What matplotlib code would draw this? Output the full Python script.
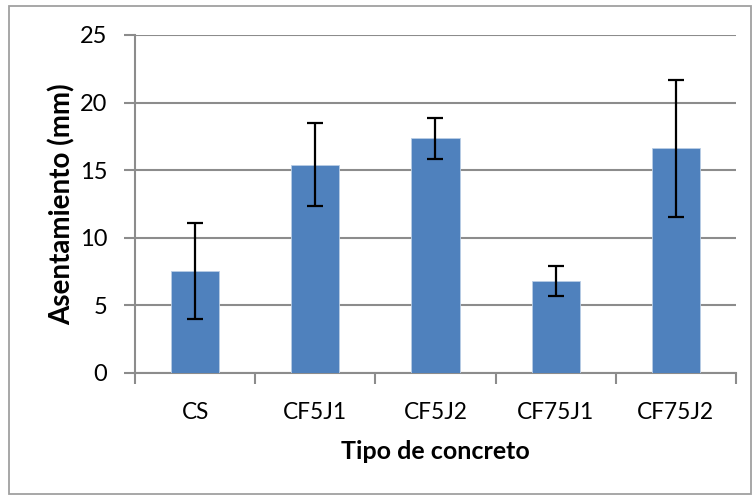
import matplotlib
matplotlib.use("Agg")
import matplotlib.pyplot as plt
from matplotlib.patches import Rectangle
import numpy as np

plt.rcParams['font.family'] = ['Lato', 'DejaVu Sans']

categories = ["CS", "CF5J1", "CF5J2", "CF75J1", "CF75J2"]
asentamiento = [7.5, 15.4, 17.35, 6.8, 16.6]
desviacion = [3.55, 3.05, 1.52, 1.1, 5.05]
y_ticks = [0, 5, 10, 15, 20, 25]

bar_color = "#4F81BD"
grid_color = "#8C8C8C"

fig = plt.figure(figsize=(7.53, 4.97), dpi=100)
ax = fig.add_axes([0.1793, 0.2501, 0.9774 - 0.1793, 0.9296 - 0.2501])

x = np.arange(len(categories))
ax.bar(x, asentamiento, width=0.4, color=bar_color, zorder=3,
       edgecolor="#B9CDE5", linewidth=0.6)
ax.errorbar(x, asentamiento, yerr=desviacion, fmt="none", ecolor="black",
            elinewidth=1.6, capsize=5.5, capthick=1.6, zorder=4)

ax.set_xlim(-0.5, len(categories) - 0.5)
ax.set_ylim(0, 25)
ax.set_yticks(y_ticks)
ax.set_yticklabels([str(t) for t in y_ticks])
ax.yaxis.grid(True, color=grid_color, linewidth=1.5, zorder=0)
ax.set_axisbelow(True)

ax.set_xticks(x)
ax.set_xticklabels(categories)
ax.set_xticks(np.arange(-0.5, len(categories)), minor=True)
ax.tick_params(axis="x", which="major", length=0, pad=21, labelsize=16.3)
ax.tick_params(axis="x", which="minor", length=8, width=1.5, color=grid_color,
               direction="out")
ax.tick_params(axis="y", length=8, width=1.5, color=grid_color, pad=12,
               labelsize=17)

for side in ("top", "right"):
    ax.spines[side].set_visible(False)
for side in ("left", "bottom"):
    ax.spines[side].set_color(grid_color)
    ax.spines[side].set_linewidth(1.5)

ax.set_xlabel("Tipo de concreto", fontsize=18, fontweight="bold", labelpad=12)
ax.set_ylabel("Asentamiento (mm)", fontsize=20, fontweight="bold", labelpad=3)

# light frame around the whole chart area
fig.patches.append(Rectangle((9 / 753, 1 - 494 / 497), (751 - 9) / 753,
                             (494 - 6) / 497, transform=fig.transFigure,
                             fill=False, edgecolor="#A0A0A0", linewidth=1.3))

fig.savefig("out.png", dpi=100)
